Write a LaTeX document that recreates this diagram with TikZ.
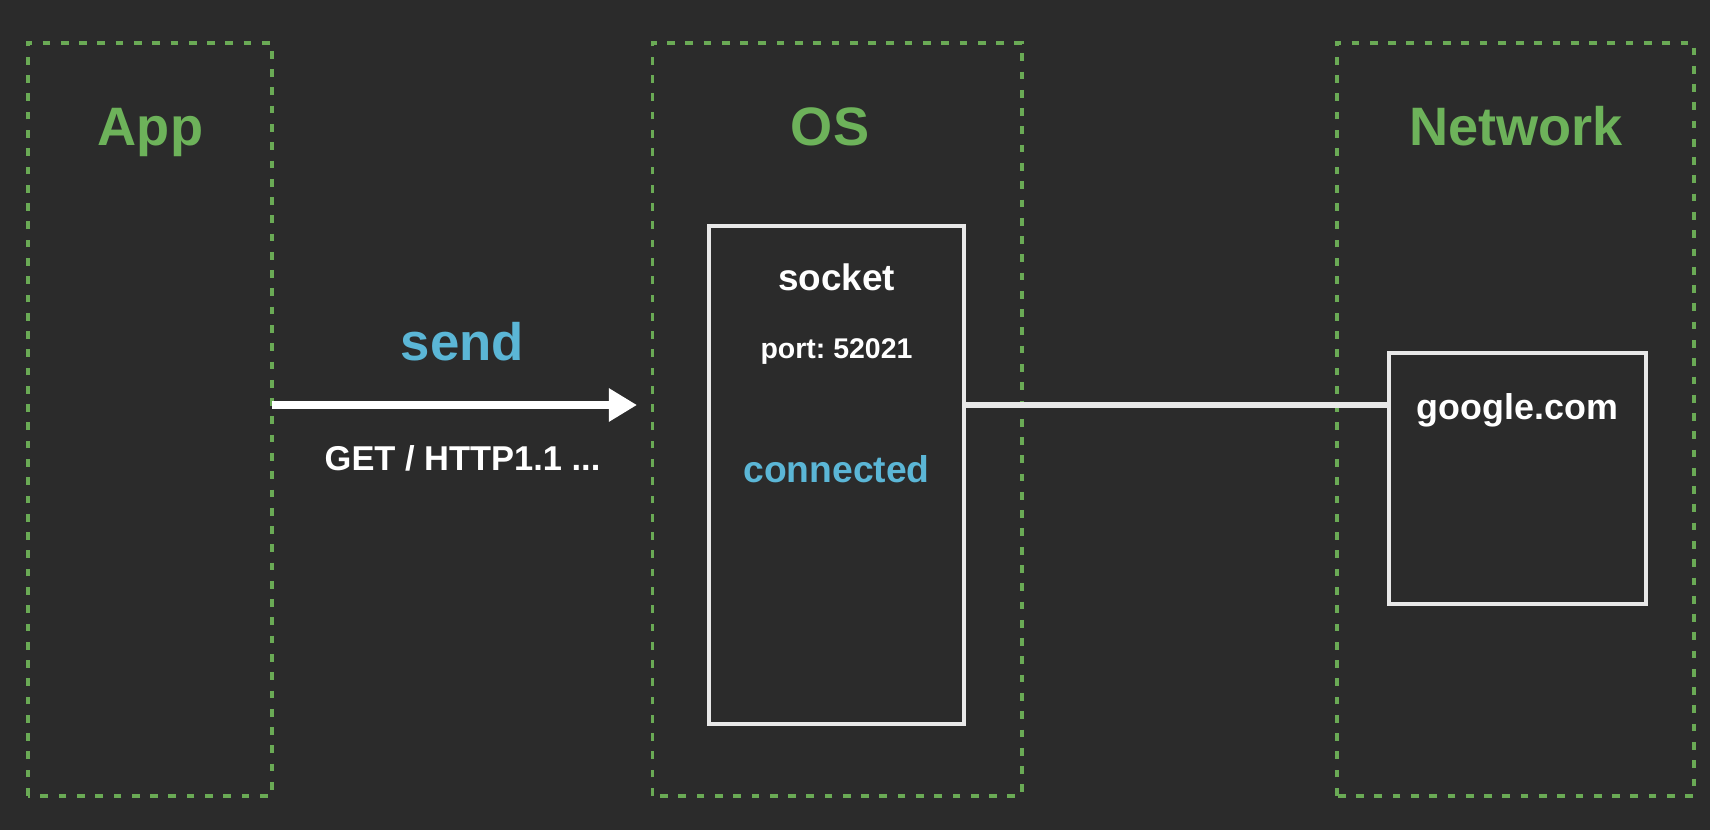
\documentclass[tikz,border=0pt]{standalone}
\usepackage{fontspec}
\setmainfont{Liberation Sans}
\usepackage{xcolor}
\usetikzlibrary{arrows.meta}
\usetikzlibrary{positioning}
\frenchspacing

\definecolor{bgcol}{HTML}{2B2B2B}
\definecolor{layergreen}{HTML}{6AAA55}
\definecolor{titlegreen}{HTML}{6DB25A}
\definecolor{cyancol}{HTML}{5BB6D6}
\definecolor{boxwhite}{HTML}{E8E8E8}

\tikzset{
  layer/.style={draw=layergreen,line width=1.05pt,dash pattern=on 2.2pt off 3pt},
  title/.style={anchor=base,text=titlegreen,font=\bfseries\fontsize{15.4}{18}\selectfont},
  whitebox/.style={draw=boxwhite,line width=1.15pt},
  boxtext/.style={anchor=base,text=white,font=\bfseries\fontsize{10.5}{12}\selectfont},
}

\begin{document}
\begin{tikzpicture}
\fill[bgcol] (0,0) rectangle (17.1,8.3);
\useasboundingbox (0,0) rectangle (17.1,8.3);
% the three layers
\draw[layer] (0.28,0.343) rectangle (2.72,7.873);
\draw[layer] (6.525,0.343) rectangle (10.22,7.873);
\draw[layer] (13.37,0.343) rectangle (16.94,7.873);
\node[title] (app) at (1.505,6.85) {App};
\node[title] (os) at (8.30,6.85) {OS};
\node[title] (net) at (15.16,6.85) {Network};
% socket and remote host
\node[whitebox,minimum width=2.55cm,minimum height=4.98cm] (socket) at (8.365,3.55) {};
\node[whitebox,minimum width=2.57cm,minimum height=2.51cm] (google) at (15.175,3.515) {};
\node[boxtext] (sockname) at (8.365,5.40) {socket};
\node[boxtext,font=\bfseries\fontsize{8.1}{10}\selectfont] (port) at (8.365,4.72) {port: 52021};
\node[boxtext,text=cyancol,font=\bfseries\fontsize{10.6}{12}\selectfont] (state) at (8.365,3.48) {connected};
\node[boxtext,font=\bfseries\fontsize{10.2}{12}\selectfont] (host) at (15.175,4.11) {google.com};
% connectors
\coordinate (mid) at (0,4.25);
\coordinate (sendtip) at (6.37,4.25);
\draw[white,line width=2pt,-{Triangle[length=8pt,width=9pt]}] (2.72,4.25) -- (sendtip);
\draw[boxwhite,line width=1.5pt] (socket.east |- mid) -- (google.west |- mid);
\node[anchor=base,text=cyancol,font=\bfseries\fontsize{15}{18}\selectfont] (send) at (4.625,4.70) {send};
\node[boxtext,font=\bfseries\fontsize{9.8}{12}\selectfont] (req) at (4.625,3.593) {GET / HTTP1.1 ...};
\end{tikzpicture}
\end{document}
